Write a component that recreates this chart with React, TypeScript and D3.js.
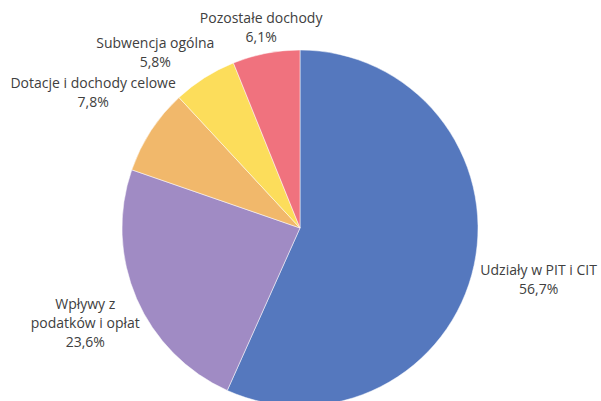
import React from "react";
import * as d3 from "d3";

const categories = ["Udziały w PIT i CIT", "Wpływy z podatków i opłat", "Dotacje i dochody celowe", "Subwencja ogólna", "Pozostałe dochody"];
const values = [56.7, 23.6, 7.8, 5.8, 6.1];
const labelLines = [["Udziały w PIT i CIT"], ["Wpływy z", "podatków i opłat"], ["Dotacje i dochody celowe"], ["Subwencja ogólna"], ["Pozostałe dochody"]];
const colors = ["#5578BE", "#A08BC4", "#F1B86B", "#FCDD5B", "#F0727E"];

// label placement radii (horizontal, vertical) per slice
const labelRx = [244, 234, 247, 270, 204];
const labelRy = [245, 239, 247, 208, 204];

const W = 601, H = 401;
const cx = 300, cy = 228, R = 178;
const lineH = 19;

export default function App() {
  const pie = d3.pie<number>().sort(null).value((d) => d)(values);
  const arc = d3.arc<d3.PieArcDatum<number>>().innerRadius(0).outerRadius(R);
  const fmt = (v: number) => v.toFixed(1).replace(".", ",") + "%";
  return (
    <svg width={W} height={H} style={{ position: "absolute", left: 0, top: 0, background: "#fff" }}
      fontFamily="'Open Sans', sans-serif" fontSize={14}>
      <g transform={`translate(${cx},${cy})`}>
        {pie.map((p, i) => (
          <path key={i} d={arc(p) || ""} fill={colors[i]} stroke="#fff" strokeWidth={0.5} />
        ))}
        {pie.map((p, i) => {
          const mid = (p.startAngle + p.endAngle) / 2;
          const x = Math.sin(mid) * labelRx[i];
          const y = -Math.cos(mid) * labelRy[i];
          const lines = [...labelLines[i], fmt(values[i])];
          const y0 = y - ((lines.length - 1) * lineH) / 2;
          return (
            <text key={"l" + i} textAnchor="middle" fill="#404040">
              {lines.map((t, j) => (
                <tspan key={j} x={x} y={y0 + j * lineH} dy="0.35em">{t}</tspan>
              ))}
            </text>
          );
        })}
      </g>
    </svg>
  );
}
